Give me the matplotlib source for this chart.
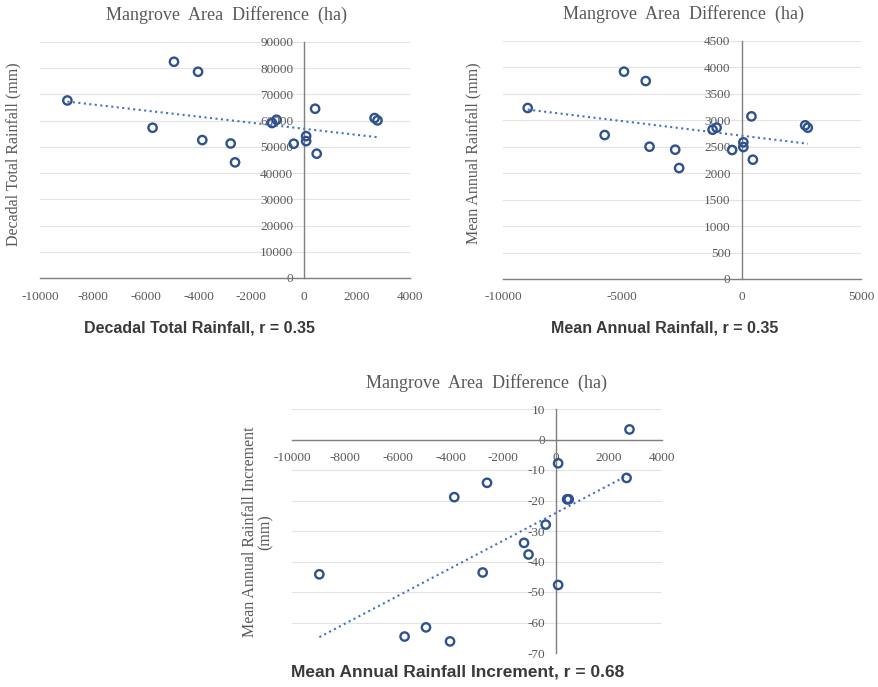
"""Mangrove area difference vs rainfall: three Excel-style scatter panels."""

import matplotlib

matplotlib.use("Agg")
import matplotlib.pyplot as plt
import numpy as np
from matplotlib.ticker import StrMethodFormatter

# Mangrove area difference (ha), shared by all three panels
area_diff = [-8965, -5740, -4930, -4020, -3860, -2785, -2620, -1220,
             -1050, -400, 70, 70, 410, 470, 2660, 2770]

decadal_total = [67700, 57300, 82460, 78650, 52600, 51300, 44100, 59100,
                 60350, 51200, 54100, 52200, 64550, 47400, 61000, 60100]

mean_annual = [3233, 2722, 3920, 3743, 2502, 2445, 2098, 2823,
               2861, 2439, 2584, 2495, 3075, 2256, 2905, 2861]

annual_increment = [-44.2, -64.6, -61.6, -66.2, -18.9, -43.6, -14.2, -33.9,
                    -37.7, -27.9, -7.8, -47.7, -19.6, -19.6, -12.6, 3.3]

W, H = 879, 687
SERIF = "Liberation Serif"
GREY = "#595959"
MARKER = "#2F528F"
TREND = "#4472C4"

plt.rcParams["axes.unicode_minus"] = False


def px_axes(fig, x0, x1, ytop, ybot):
    return fig.add_axes([x0 / W, 1 - ybot / H, (x1 - x0) / W, (ybot - ytop) / H])


def panel(ax, x, y, xlim, xticks, ylim, yticks):
    x = np.asarray(x, float)
    y = np.asarray(y, float)
    ax.set_xlim(*xlim)
    ax.set_ylim(*ylim)
    ax.set_xticks(xticks)
    ax.set_yticks(yticks)
    ax.xaxis.set_major_formatter(StrMethodFormatter("{x:.0f}"))
    ax.yaxis.set_major_formatter(StrMethodFormatter("{x:.0f}"))
    for side in ("top", "right"):
        ax.spines[side].set_visible(False)
    for side in ("left", "bottom"):
        ax.spines[side].set_position(("data", 0))
        ax.spines[side].set_color("#7f7f7f")
        ax.spines[side].set_linewidth(1.0)
    ax.tick_params(length=0, labelsize=9.5, labelcolor=GREY)
    ax.tick_params(axis="x", pad=9)
    ax.tick_params(axis="y", pad=8)
    for lab in ax.get_xticklabels() + ax.get_yticklabels():
        lab.set_fontfamily(SERIF)
    ax.grid(axis="y", color="#e3e3e3", lw=0.8)
    ax.set_axisbelow(True)

    slope, icpt = np.polyfit(x, y, 1)
    xs = np.array([x.min(), x.max()])
    ax.plot(xs, slope * xs + icpt, ls=":", color=TREND, lw=1.5, zorder=2)
    ax.scatter(x, y, s=36, facecolors="none", edgecolors=MARKER,
               linewidths=1.7, zorder=4, clip_on=False)


def main() -> None:
    fig = plt.figure(figsize=(W / 100, H / 100), dpi=100)

    ax1 = px_axes(fig, 40, 410, 42, 278)
    panel(ax1, area_diff, decadal_total, (-10000, 4000),
          range(-10000, 4001, 2000), (0, 90000), range(0, 90001, 10000))

    ax2 = px_axes(fig, 503, 861, 41, 279)
    panel(ax2, area_diff, mean_annual, (-10000, 5000),
          range(-10000, 5001, 5000), (0, 4500), range(0, 4501, 500))

    ax3 = px_axes(fig, 292, 662, 409, 653)
    panel(ax3, area_diff, annual_increment, (-10000, 4000),
          range(-10000, 4001, 2000), (-70, 10), range(-70, 11, 10))

    # titles above each panel
    for cx, cy in [(227, 15), (684, 14), (487, 383)]:
        fig.text(cx / W, 1 - cy / H, "Mangrove  Area  Difference  (ha)",
                 ha="center", va="center", fontsize=13, color=GREY,
                 family=SERIF)

    fig.text(13 / W, 1 - 154 / H, "Decadal Total Rainfall (mm)", rotation=90,
             ha="center", va="center", fontsize=11.5, color=GREY, family=SERIF)
    fig.text(473 / W, 1 - 153 / H, "Mean Annual Rainfall (mm)", rotation=90,
             ha="center", va="center", fontsize=11.5, color=GREY, family=SERIF)
    fig.text(258 / W, 1 - 532 / H, "Mean Annual Rainfall Increment\n(mm)",
             rotation=90, ha="center", va="center", fontsize=11.5, color=GREY,
             family=SERIF, linespacing=1.0)

    # captions
    bold = dict(ha="center", va="center", fontweight="bold", color="#3a3a3a",
                family="Liberation Sans")
    fig.text(200 / W, 1 - 328 / H, "Decadal Total Rainfall, r = 0.35",
             fontsize=11.5, **bold)
    fig.text(665 / W, 1 - 328 / H, "Mean Annual Rainfall, r = 0.35",
             fontsize=11.5, **bold)
    fig.text(458 / W, 1 - 672 / H, "Mean Annual Rainfall Increment, r = 0.68",
             fontsize=12.5, **bold)

    fig.savefig("out.png", dpi=100)


if __name__ == "__main__":
    main()
